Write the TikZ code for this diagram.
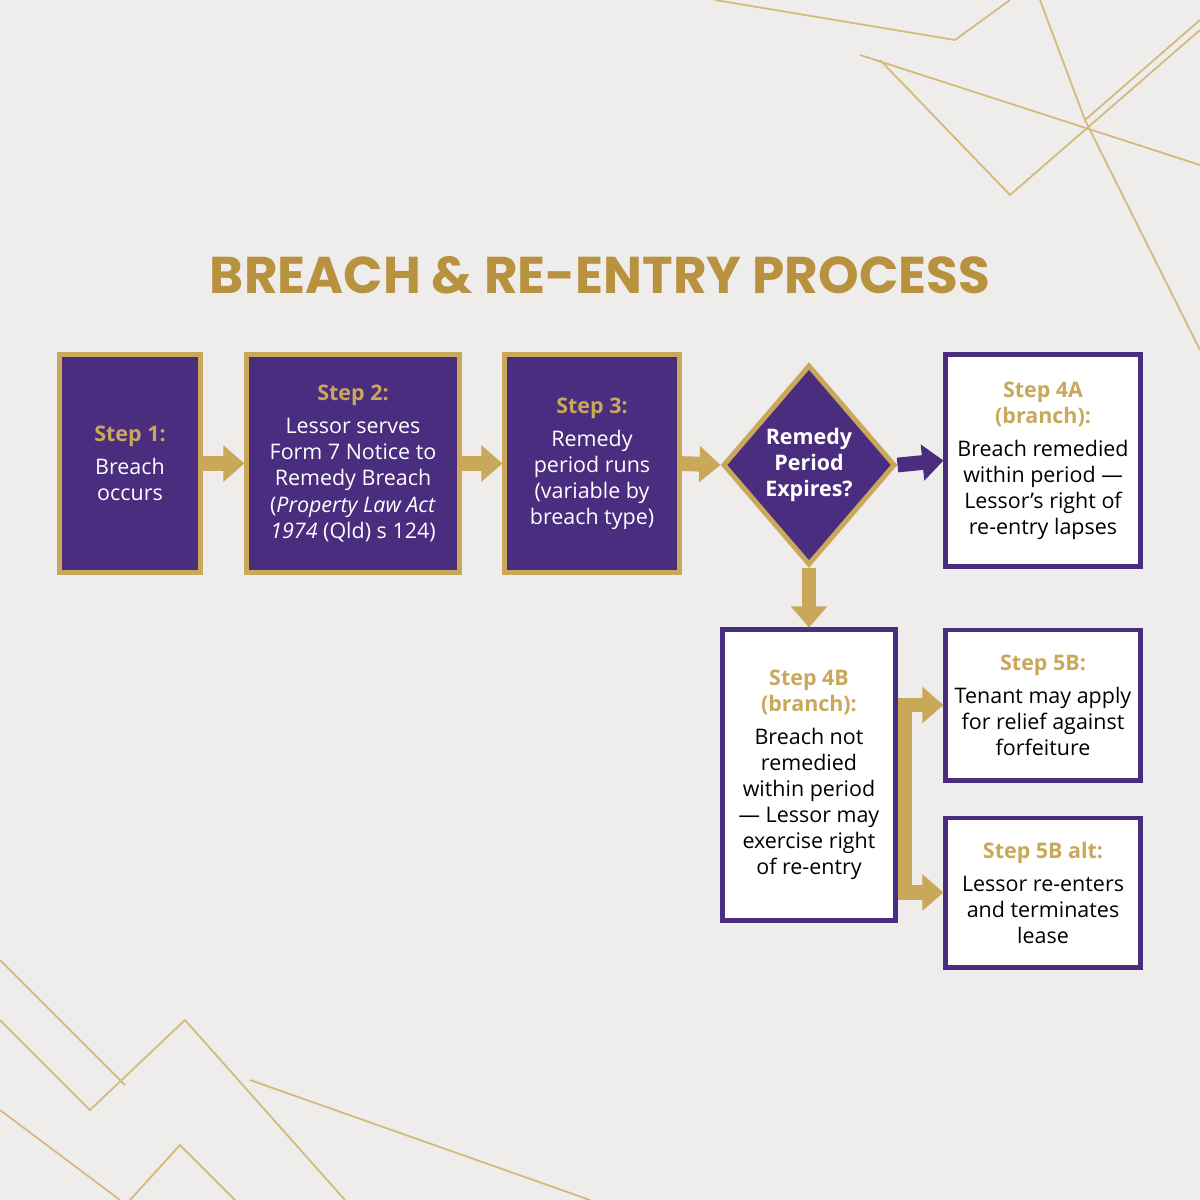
\documentclass[tikz,border=0pt]{standalone}
\usepackage{fontspec}
\setmainfont{Open Sans}
\newfontfamily\titlefont{Poppins}
\usetikzlibrary{arrows.meta,shapes.geometric}
\definecolor{bg}{HTML}{EEEDEB}
\definecolor{pur}{HTML}{4A2D7E}
\definecolor{gold}{HTML}{C9A85A}
\definecolor{goldt}{HTML}{B8923E}
\newcommand\gl[1]{{\bfseries\color{gold}#1}}
\begin{document}
\begin{tikzpicture}[x=0.01cm,y=-0.01cm,
  pbox/.style={draw=gold,line width=1.4pt,fill=pur,text=white,align=center,font=\fontsize{6.1}{7.4}\selectfont,inner sep=0pt},
  wbox/.style={draw=pur,line width=1.4pt,fill=white,text=black,align=center,font=\fontsize{6.1}{7.4}\selectfont,inner sep=0pt},
  arr/.style={draw=gold,line width=4.2pt,-{Triangle[length=6pt,width=10pt]}},
  deco/.style={draw=gold!80!white,line width=0.5pt}]
\fill[bg] (0,0) rectangle (1200,1200);
\useasboundingbox (0,0) rectangle (1200,1200);
% decorations
\draw[deco] (715,0)--(955,40)--(1010,0);
\draw[deco] (860,55)--(1200,165);
\draw[deco] (880,60)--(1010,195)--(1200,30);
\draw[deco] (1085,120)--(1200,350);
\draw[deco] (1040,0)--(1085,120)--(1200,20);
\draw[deco] (0,960)--(125,1085);
\draw[deco] (0,1020)--(90,1110)--(185,1020)--(345,1200);
\draw[deco] (250,1080)--(590,1200);
\draw[deco] (130,1200)--(180,1145)--(235,1200);
\draw[deco] (0,1110)--(120,1200);
\node[font=\titlefont\bfseries\fontsize{14.7}{17}\selectfont,text=goldt] (title) at (600,275) {BREACH \& RE-ENTRY PROCESS};
\node[pbox,minimum width=1.40cm,minimum height=2.17cm] (s1) at (130,463.5) {\gl{Step 1:}\\[2pt]Breach\\occurs};
\node[pbox,minimum width=2.12cm,minimum height=2.17cm] (s2) at (353,463.5) {\gl{Step 2:}\\[2pt]Lessor serves\\Form 7 Notice to\\Remedy Breach\\(\textit{Property Law Act}\\\textit{1974} (Qld) s 124)};
\node[pbox,minimum width=1.74cm,minimum height=2.17cm] (s3) at (592,463.5) {\gl{Step 3:}\\[2pt]Remedy\\period runs\\(variable by\\breach type)};
\node[diamond,draw=gold,line width=1.4pt,fill=pur,text=white,align=center,font=\bfseries\fontsize{6.1}{7.4}\selectfont,minimum width=1.72cm,minimum height=2.0cm,inner sep=0pt] (d) at (809,465) {Remedy\\Period\\Expires?};
\node[wbox,minimum width=1.94cm,minimum height=2.11cm] (s4a) at (1043,460.5) {\gl{Step 4A}\\\gl{(branch):}\\[2pt]Breach remedied\\within period —\\Lessor’s right of\\re-entry lapses};
\node[wbox,minimum width=1.72cm,minimum height=2.90cm] (s4b) at (809,775) {\gl{Step 4B}\\\gl{(branch):}\\[2pt]Breach not\\remedied\\within period\\— Lessor may\\exercise right\\of re-entry};
\node[wbox,minimum width=1.94cm,minimum height=1.50cm] (s5b) at (1043,705) {\gl{Step 5B:}\\[2pt]Tenant may apply\\for relief against\\forfeiture};
\node[wbox,minimum width=1.94cm,minimum height=1.49cm] (s5c) at (1043,892.5) {\gl{Step 5B alt:}\\[2pt]Lessor re-enters\\and terminates\\lease};
\draw[arr] (s1.east) -- (s2.west);
\draw[arr] (s2.east) -- (s3.west);
\draw[arr] (s3.east) -- (d.west);
\draw[arr,draw=pur] (d.east) -- (s4a.west);
\draw[arr] (d.south) -- (s4b.north);
\coordinate (j1) at (905,705);
\coordinate (j2) at (905,892.5);
\draw[draw=gold,line width=4.2pt] ([yshift=0.07cm]j1) -- ([yshift=-0.07cm]j2);
\draw[arr] (j1) -- (s5b.west);
\draw[arr] (j2) -- (s5c.west);
\end{tikzpicture}
\end{document}
